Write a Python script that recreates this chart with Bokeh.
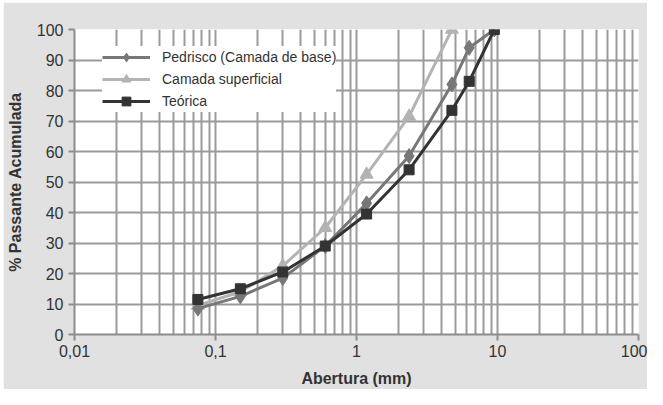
from bokeh.plotting import figure
from bokeh.models import FixedTicker, CustomJSTickFormatter, Legend, LegendItem, Range1d
from bokeh.embed import file_html
from bokeh.resources import INLINE

# Data
sieves_full = [0.075, 0.15, 0.3, 0.6, 1.18, 2.36, 4.75, 6.3, 9.5]
sieves_sup = [0.075, 0.15, 0.3, 0.6, 1.18, 2.36, 4.75]
pedrisco = [8.5, 12.5, 18.5, 29, 43, 58.5, 82, 94, 100]
superficial = [9.5, 14, 22.5, 35, 52.5, 71.5, 100]
teorica = [11.5, 15, 20.5, 29, 39.5, 54, 73.5, 83, 100]

x_major = [0.01, 0.1, 1, 10, 100]
x_grid = [0.01, 0.02, 0.03, 0.04, 0.05, 0.06, 0.07, 0.08, 0.09,
          0.1, 0.2, 0.3, 0.4, 0.5, 0.6, 0.7, 0.8, 0.9,
          1, 2, 3, 4, 5, 6, 7, 8, 9,
          10, 20, 30, 40, 50, 60, 70, 80, 90, 100]
y_ticks = [0, 10, 20, 30, 40, 50, 60, 70, 80, 90, 100]

FONT = "Liberation Sans"
BG = "#e1e1e1"
GRID = "#9a9a9a"
TXT = "#333333"

p = figure(width=644, height=387, x_axis_type="log",
           x_range=Range1d(0.01, 100), y_range=Range1d(0, 100),
           output_backend="svg", toolbar_location=None,
           min_border_left=69, min_border_right=9, min_border_top=27, min_border_bottom=53)
p.margin = (2, 0, 0, 3)
p.border_fill_color = BG
p.background_fill_color = "white"
p.outline_line_color = None

p.xaxis.ticker = FixedTicker(ticks=x_major, minor_ticks=[])
p.xaxis.formatter = CustomJSTickFormatter(code="return tick.toString().replace('.', ',');")
p.yaxis.ticker = FixedTicker(ticks=y_ticks, minor_ticks=[])
p.xgrid.ticker = FixedTicker(ticks=x_grid)
p.ygrid.ticker = FixedTicker(ticks=y_ticks)
for g in (p.xgrid, p.ygrid):
    g.grid_line_color = GRID
    g.grid_line_width = 2

for ax in (p.xaxis, p.yaxis):
    ax.axis_line_color = "#8c8c8c"
    ax.axis_line_width = 2
    ax.major_tick_line_color = "#8c8c8c"
    ax.major_tick_line_width = 2
    ax.major_tick_out = 6
    ax.major_tick_in = 0
    ax.minor_tick_line_color = None
    ax.major_label_text_font = FONT
    ax.major_label_text_font_size = "16px"
    ax.major_label_text_color = TXT
    ax.axis_label_text_font = FONT
    ax.axis_label_text_font_size = "16px"
    ax.axis_label_text_font_style = "bold"
    ax.axis_label_text_color = TXT

p.xaxis.axis_label = "Abertura (mm)"
p.yaxis.axis_label = "% Passante Acumulada"
p.xaxis.major_label_standoff = 4
p.yaxis.major_label_standoff = 5
p.xaxis.axis_label_standoff = 10
p.yaxis.axis_label_standoff = 10

c_ped, c_sup, c_teo = "#777777", "#b3b3b3", "#333333"

l2 = p.line(sieves_sup, superficial, line_color=c_sup, line_width=3)
s2 = p.scatter(sieves_sup, superficial, marker="triangle", size=13, fill_color=c_sup, line_color=c_sup)
l1 = p.line(sieves_full, pedrisco, line_color=c_ped, line_width=3)
s1 = p.scatter(sieves_full, pedrisco, marker="diamond", size=15, fill_color=c_ped, line_color=c_ped)
l3 = p.line(sieves_full, teorica, line_color=c_teo, line_width=3)
s3 = p.scatter(sieves_full, teorica, marker="square", size=10, fill_color=c_teo, line_color=c_teo)

legend = Legend(items=[
    LegendItem(label="Pedrisco (Camada de base)", renderers=[l1, s1]),
    LegendItem(label="Camada superficial", renderers=[l2, s2]),
    LegendItem(label="Teórica", renderers=[l3, s3]),
], location=(28, 222))
legend.background_fill_color = "white"
legend.background_fill_alpha = 1
legend.border_line_color = None
legend.label_text_font = FONT
legend.label_text_font_size = "14px"
legend.label_text_color = TXT
legend.glyph_width = 48
legend.glyph_height = 22
legend.label_height = 20
legend.spacing = 0
legend.padding = 5
legend.margin = 0
legend.label_standoff = 12
p.add_layout(legend, "center")

open("out.html", "w").write(file_html(p, INLINE))
